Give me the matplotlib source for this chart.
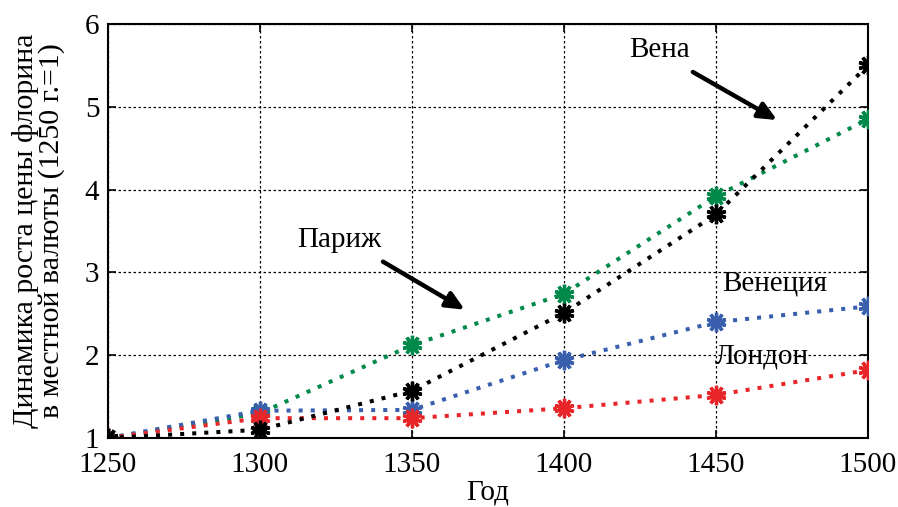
import numpy as np
import matplotlib.pyplot as plt

plt.rcParams['font.family'] = ['Liberation Serif', 'DejaVu Serif']

years = [1250, 1300, 1350, 1400, 1450, 1500]

paris = [1.0, 1.30, 2.12, 2.74, 3.92, 4.85]
vienna = [1.0, 1.10, 1.57, 2.51, 3.70, 5.50]
venice = [1.0, 1.33, 1.34, 1.94, 2.40, 2.59]
london = [1.0, 1.24, 1.24, 1.36, 1.52, 1.82]

series = [
    (paris, '#00894a'),
    (venice, '#3a5fad'),
    (london, '#e8262a'),
    (vienna, 'black'),
]

fig = plt.figure(figsize=(8.98, 5.07), dpi=100)
ax = fig.add_axes([0.12, 0.136, 0.8466, 0.8167])

for vals, col in series:
    ax.plot(years, vals, linestyle=(0, (1, 2)), linewidth=2.9,
            color=col, dash_capstyle='butt',
            marker=(10, 2, 0), markersize=14, markeredgewidth=2.4,
            markeredgecolor=col, zorder=3)

ax.set_xlim(1250, 1500)
ax.set_ylim(1, 6)
ax.set_xticks(years)
ax.set_yticks([1, 2, 3, 4, 5, 6])
ax.grid(True, color='black', linestyle=(0, (2, 2)), linewidth=0.9)
ax.tick_params(direction='in', labelsize=21, length=6, width=1.2,
               top=True, right=True)
ax.tick_params(axis='x', pad=10)
ax.tick_params(axis='y', pad=6)
for sp in ax.spines.values():
    sp.set_linewidth(1.5)

ax.set_xlabel('Год', fontsize=21, labelpad=1)
ax.set_ylabel('Динамика роста цены флорина\nв местной валюты (1250 г.=1)',
              fontsize=21.5, labelpad=14, linespacing=0.95)

# labels with arrows
arrow = dict(arrowstyle='-|>,head_length=1.1,head_width=0.5',
             color='black', lw=3.2, shrinkA=0, shrinkB=0)
ax.annotate('', xy=(1470.1, 4.84), xytext=(1442.4, 5.42), arrowprops=arrow)
ax.text(1431.6, 5.69, 'Вена', fontsize=21, ha='center', va='center')

ax.annotate('', xy=(1367.4, 2.55), xytext=(1340.5, 3.13), arrowprops=arrow)
ax.text(1326.3, 3.39, 'Париж', fontsize=21, ha='center', va='center')

ax.text(1469.4, 2.87, 'Венеция', fontsize=21, ha='center', va='center')
ax.text(1465.1, 1.99, 'Лондон', fontsize=21, ha='center', va='center')

fig.savefig('out.png', dpi=100)
